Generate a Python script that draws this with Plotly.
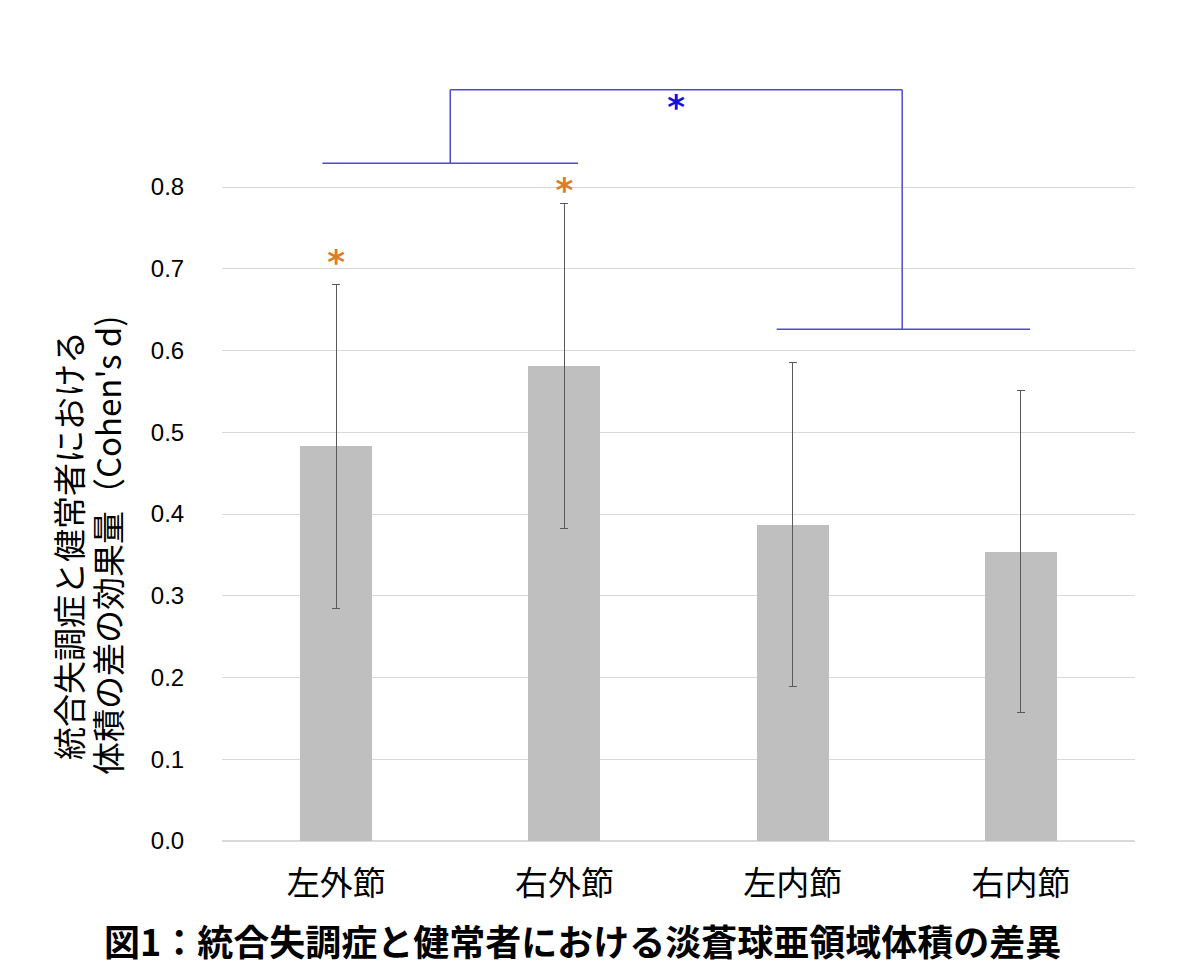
import plotly.graph_objects as go

categories = ["左外節", "右外節", "左内節", "右内節"]
effect_d = [0.483, 0.581, 0.387, 0.354]
err_d = [0.198, 0.199, 0.198, 0.197]
ytick_vals = [0.0, 0.1, 0.2, 0.3, 0.4, 0.5, 0.6, 0.7, 0.8]
ytick_text = ["0.0", "0.1", "0.2", "0.3", "0.4", "0.5", "0.6", "0.7", "0.8"]

# significance markers: (x position in category units, y value)
orange_star_x = [0, 1]
orange_star_y = [0.704, 0.792]
# brackets (category-unit x, data y)
left_bar_x = [-0.06, 1.06]
left_bar_y = 0.829
right_bar_x = [1.93, 3.04]
right_bar_y = 0.626
top_bar_y = 0.919
top_bar_x = [0.5, 2.48]
blue_star = (1.49, 0.894)

fig = go.Figure()
fig.add_trace(go.Bar(
    x=list(range(len(categories))), y=effect_d,
    marker=dict(color="#BFBFBF", line=dict(width=0)),
    width=0.316,
    error_y=dict(type="data", array=err_d, visible=True, color="#595959", thickness=1, width=4),
    showlegend=False,
))

fig.add_trace(go.Scatter(
    x=orange_star_x, y=orange_star_y, mode="text", text=["<b>*</b>", "<b>*</b>"],
    textfont=dict(size=34, color="#E07B28", family="DejaVu Sans"), showlegend=False,
))
fig.add_trace(go.Scatter(
    x=[blue_star[0]], y=[blue_star[1]], mode="text", text=["<b>*</b>"],
    textfont=dict(size=34, color="#1010E0", family="DejaVu Sans"), showlegend=False,
))

lc = dict(color="#4B4BD0", width=1.5)
fig.add_shape(type="line", x0=left_bar_x[0], x1=left_bar_x[1], y0=left_bar_y, y1=left_bar_y, line=lc)
fig.add_shape(type="line", x0=right_bar_x[0], x1=right_bar_x[1], y0=right_bar_y, y1=right_bar_y, line=lc)
fig.add_shape(type="line", x0=top_bar_x[0], x1=top_bar_x[0], y0=left_bar_y, y1=top_bar_y, line=lc)
fig.add_shape(type="line", x0=top_bar_x[1], x1=top_bar_x[1], y0=right_bar_y, y1=top_bar_y, line=lc)
fig.add_shape(type="line", x0=top_bar_x[0], x1=top_bar_x[1], y0=top_bar_y, y1=top_bar_y, line=lc)

W, H = 1190, 978
l, r, t, b = 222, 55, 80, 137
fig.update_layout(
    width=W, height=H,
    margin=dict(l=l, r=r, t=t, b=b),
    plot_bgcolor="white", paper_bgcolor="white",
    font=dict(family="Noto Sans CJK JP, Liberation Sans, Arial", color="#000000"),
    bargap=0,
    xaxis=dict(
        range=[-0.5, 3.5], tickmode="array", tickvals=list(range(len(categories))),
        ticktext=categories, tickfont=dict(size=33, color="#000000"),
        showgrid=False, zeroline=False, showline=False, ticks="outside", ticklen=13,
        tickcolor="rgba(0,0,0,0)",
    ),
    yaxis=dict(
        range=[0, 0.9309], tickmode="array", tickvals=ytick_vals, ticktext=ytick_text,
        tickfont=dict(size=24, color="#000000", family="Liberation Sans, Arial"),
        showgrid=True, gridcolor="#D9D9D9", gridwidth=1,
        zeroline=True, zerolinecolor="#D9D9D9", zerolinewidth=1.5,
        showline=False, ticks="outside", ticklen=32, tickcolor="rgba(0,0,0,0)",
    ),
)

pw = W - l - r
ph = 841 - 80
ytitle_lines = ["統合失調症と健常者における", "体積の差の効果量（Cohen's d)"]
ytitle_x = [68, 107]
for txt, xp in zip(ytitle_lines, ytitle_x):
    fig.add_annotation(
        xref="paper", yref="paper",
        x=(xp - l) / pw, y=(841 - 546) / ph,
        text=txt, textangle=-90, showarrow=False, xanchor="center", yanchor="middle",
        font=dict(size=33, color="#000000", family="Noto Sans CJK JP"),
    )

fig.add_annotation(
    xref="paper", yref="paper",
    x=(582 - l) / pw, y=-(940 - 841) / ph,
    text="<b>図1：統合失調症と健常者における淡蒼球亜領域体積の差異</b>",
    showarrow=False, xanchor="center", yanchor="middle",
    font=dict(size=36, color="#000000", family="Noto Sans CJK JP"),
)

fig.write_html("out.html")
